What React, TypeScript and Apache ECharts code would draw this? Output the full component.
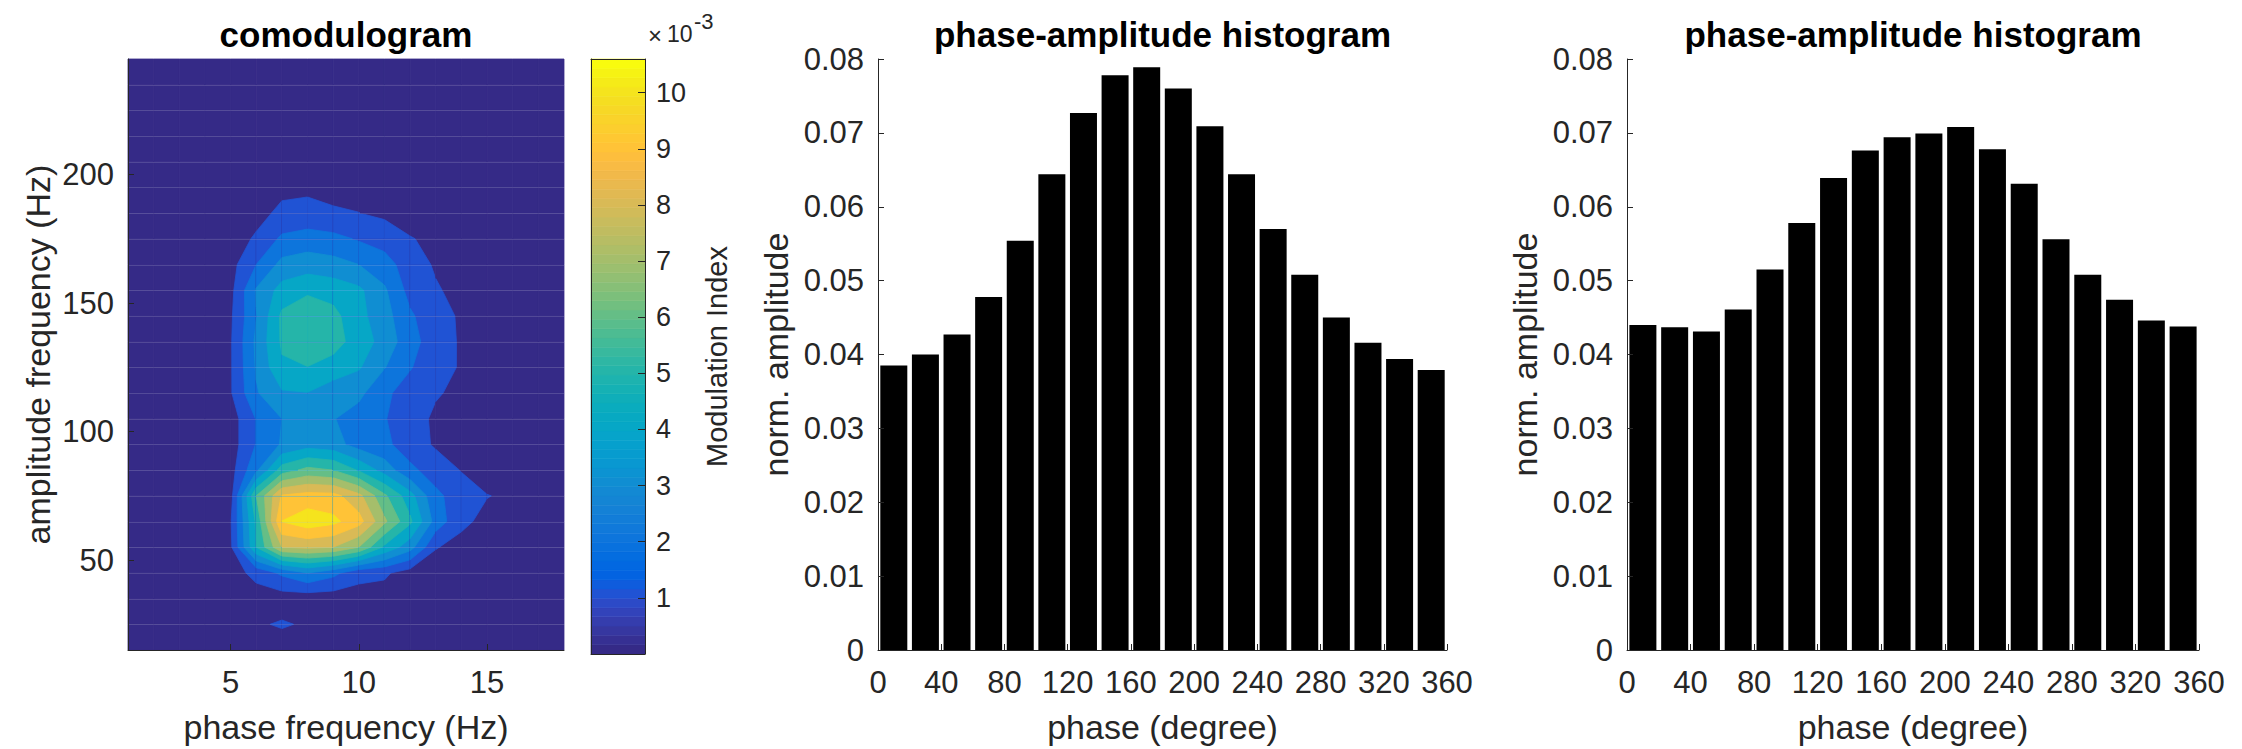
import React, { useEffect, useRef } from "react";
import * as echarts from "echarts";

// ---------- data ----------
const phaseFreqs = [1, 2, 3, 4, 5, 6, 7, 8, 9, 10, 11, 12, 13, 14, 15, 16, 17, 18];
const ampFreqs = [15, 25, 35, 45, 55, 65, 75, 85, 95, 105, 115, 125, 135, 145, 155, 165, 175, 185, 195, 205, 215, 225, 235, 245];

// modulation index (x 1e-3), one row per amplitude frequency, columns = phase frequency 1..18
const mi015 = [0.3, 0.35, 0.4, 0.45, 0.5, 0.5, 0.5, 0.5, 0.5, 0.45, 0.45, 0.4, 0.4, 0.35, 0.35, 0.35, 0.3, 0.3];
const mi025 = [0.35, 0.4, 0.45, 0.5, 0.6, 0.88, 1.1, 0.88, 0.65, 0.55, 0.5, 0.45, 0.4, 0.4, 0.4, 0.35, 0.35, 0.35];
const mi035 = [0.35, 0.4, 0.45, 0.5, 0.55, 0.6, 0.5, 0.4, 0.45, 0.67, 0.6, 0.5, 0.45, 0.4, 0.4, 0.4, 0.35, 0.35];
const mi045 = [0.35, 0.4, 0.45, 0.5, 0.61, 1.26, 2.2, 3.0, 2.3, 1.25, 1.15, 0.55, 0.5, 0.45, 0.45, 0.4, 0.4, 0.35];
const mi055 = [0.35, 0.4, 0.45, 0.55, 0.8, 5.0, 8.0, 8.2, 8.0, 7.0, 4.8, 3.4, 1.05, 0.7, 0.55, 0.45, 0.4, 0.4];
const mi065 = [0.35, 0.4, 0.45, 0.55, 0.9, 5.2, 10.02, 10.6, 10.25, 9.4, 7.2, 5.2, 2.6, 1.2, 0.75, 0.55, 0.45, 0.4];
const mi075 = [0.4, 0.4, 0.45, 0.5, 0.6, 6.0, 9.1, 9.4, 9.35, 8.3, 6.2, 4.4, 2.2, 1.55, 1.03, 0.85, 0.5, 0.4];
const mi085 = [0.4, 0.4, 0.45, 0.5, 0.6, 2.8, 5.5, 6.3, 6.0, 4.9, 3.6, 2.2, 1.6, 0.95, 0.5, 0.4, 0.4, 0.4];
const mi095 = [0.4, 0.4, 0.45, 0.5, 0.5, 2.05, 3.1, 3.6, 3.4, 2.57, 2.2, 1.55, 0.86, 0.6, 0.45, 0.4, 0.4, 0.4];
const mi105 = [0.4, 0.4, 0.45, 0.5, 0.5, 2.05, 3.0, 3.4, 3.05, 2.55, 2.05, 1.5, 0.8, 0.6, 0.45, 0.4, 0.4, 0.4];
const mi115 = [0.4, 0.4, 0.45, 0.55, 0.9, 2.9, 3.88, 3.97, 3.45, 3.25, 2.2, 1.55, 1.1, 0.75, 0.5, 0.4, 0.4, 0.4];
const mi125 = [0.4, 0.4, 0.45, 0.55, 0.9, 3.1, 4.85, 4.98, 4.55, 4.1, 3.05, 2.07, 1.37, 0.91, 0.5, 0.4, 0.4, 0.4];
const mi135 = [0.4, 0.4, 0.45, 0.55, 0.9, 3.2, 5.15, 5.6, 5.45, 4.5, 3.65, 2.35, 1.5, 0.88, 0.5, 0.4, 0.4, 0.4];
const mi145 = [0.4, 0.4, 0.45, 0.55, 0.85, 2.95, 5.2, 5.4, 5.3, 4.3, 3.4, 2.15, 1.35, 0.88, 0.5, 0.4, 0.4, 0.4];
const mi155 = [0.4, 0.4, 0.45, 0.5, 0.7, 3.1, 4.38, 4.9, 4.6, 4.2, 3.15, 1.65, 1.1, 0.7, 0.45, 0.4, 0.4, 0.4];
const mi165 = [0.4, 0.4, 0.45, 0.5, 0.65, 2.0, 3.3, 3.47, 3.35, 3.0, 2.4, 1.5, 0.88, 0.6, 0.45, 0.4, 0.4, 0.4];
const mi175 = [0.4, 0.4, 0.45, 0.5, 0.7, 1.08, 2.2, 2.51, 2.3, 1.9, 1.6, 1.05, 0.8, 0.6, 0.45, 0.4, 0.4, 0.4];
const mi185 = [0.4, 0.4, 0.4, 0.45, 0.55, 0.8, 1.14, 1.17, 1.06, 1.01, 0.8, 0.6, 0.45, 0.4, 0.4, 0.4, 0.4, 0.4];
const mi195 = [0.3, 0.3, 0.35, 0.4, 0.5, 0.6, 0.85, 0.9, 0.85, 0.75, 0.6, 0.45, 0.4, 0.35, 0.3, 0.3, 0.3, 0.3];
const mi205 = [0.25, 0.3, 0.3, 0.35, 0.4, 0.45, 0.55, 0.6, 0.55, 0.5, 0.45, 0.4, 0.35, 0.3, 0.3, 0.25, 0.25, 0.25];
const mi215 = [0.2, 0.25, 0.25, 0.3, 0.3, 0.35, 0.4, 0.4, 0.4, 0.35, 0.35, 0.3, 0.3, 0.25, 0.25, 0.2, 0.2, 0.2];
const mi225 = [0.15, 0.2, 0.2, 0.25, 0.25, 0.3, 0.3, 0.3, 0.3, 0.3, 0.25, 0.25, 0.25, 0.2, 0.2, 0.15, 0.15, 0.15];
const mi235 = [0.1, 0.15, 0.15, 0.2, 0.2, 0.2, 0.25, 0.25, 0.25, 0.2, 0.2, 0.2, 0.2, 0.15, 0.15, 0.1, 0.1, 0.1];
const mi245 = [0.05, 0.1, 0.1, 0.15, 0.15, 0.15, 0.2, 0.2, 0.2, 0.15, 0.15, 0.15, 0.15, 0.1, 0.1, 0.05, 0.05, 0.05];

const modulationIndex = [
  mi015, mi025, mi035, mi045, mi055, mi065, mi075, mi085, mi095, mi105, mi115, mi125,
  mi135, mi145, mi155, mi165, mi175, mi185, mi195, mi205, mi215, mi225, mi235, mi245,
];

const contourLevels = [1, 2, 3, 4, 5, 6, 7, 8, 9, 10];
const colorRange = [0, 10.6];
const colorbarTicks = [1, 2, 3, 4, 5, 6, 7, 8, 9, 10];
const phaseFreqTicks = [5, 10, 15];
const ampFreqTicks = [50, 100, 150, 200];

const phaseBins = [10, 30, 50, 70, 90, 110, 130, 150, 170, 190, 210, 230, 250, 270, 290, 310, 330, 350];
const histogramA = [0.0385, 0.04, 0.0427, 0.0478, 0.0554, 0.0644, 0.0727, 0.0778, 0.0789, 0.076, 0.0709, 0.0644, 0.057, 0.0508, 0.045, 0.0416, 0.0394, 0.0379];
const histogramB = [0.044, 0.0437, 0.0431, 0.0461, 0.0515, 0.0578, 0.0639, 0.0676, 0.0694, 0.0699, 0.0708, 0.0678, 0.0631, 0.0556, 0.0508, 0.0474, 0.0446, 0.0438];

// parula colormap (64)
const PARULA = [
  [0.2081, 0.1663, 0.5292], [0.2116, 0.1898, 0.5777], [0.2123, 0.2138, 0.627], [0.2081, 0.2386, 0.6771],
  [0.1959, 0.2645, 0.7279], [0.1707, 0.2919, 0.7792], [0.1253, 0.3242, 0.8303], [0.0591, 0.3598, 0.8683],
  [0.0117, 0.3875, 0.882], [0.006, 0.4086, 0.8828], [0.0165, 0.4266, 0.8786], [0.0329, 0.443, 0.872],
  [0.0498, 0.4586, 0.8641], [0.0629, 0.4737, 0.8554], [0.0723, 0.4887, 0.8467], [0.0779, 0.504, 0.8384],
  [0.0793, 0.52, 0.8312], [0.0749, 0.5375, 0.8263], [0.0641, 0.557, 0.824], [0.0488, 0.5772, 0.8228],
  [0.0343, 0.5966, 0.8199], [0.0265, 0.6137, 0.8135], [0.0239, 0.6287, 0.8038], [0.0231, 0.6418, 0.7913],
  [0.0228, 0.6535, 0.7768], [0.0267, 0.6642, 0.7607], [0.0384, 0.6743, 0.7436], [0.059, 0.6838, 0.7254],
  [0.0843, 0.6928, 0.7062], [0.1133, 0.7015, 0.6859], [0.1453, 0.7098, 0.6646], [0.1801, 0.7177, 0.6424],
  [0.2178, 0.725, 0.6193], [0.2586, 0.7317, 0.5954], [0.3022, 0.7376, 0.5712], [0.3482, 0.7424, 0.5473],
  [0.3953, 0.7459, 0.5244], [0.442, 0.7481, 0.5033], [0.4871, 0.7491, 0.484], [0.53, 0.7491, 0.4661],
  [0.5709, 0.7485, 0.4494], [0.6099, 0.7473, 0.4337], [0.6473, 0.7456, 0.4188], [0.6834, 0.7435, 0.4044],
  [0.7184, 0.7411, 0.3905], [0.7525, 0.7384, 0.3768], [0.7858, 0.7356, 0.3633], [0.8185, 0.7327, 0.3498],
  [0.8507, 0.7299, 0.336], [0.8824, 0.7274, 0.3217], [0.9139, 0.7258, 0.3063], [0.945, 0.7261, 0.2886],
  [0.9739, 0.7314, 0.2666], [0.9938, 0.7455, 0.2403], [0.999, 0.7653, 0.2164], [0.9955, 0.7861, 0.1967],
  [0.988, 0.8066, 0.1794], [0.9789, 0.8271, 0.1633], [0.9697, 0.8481, 0.1475], [0.9626, 0.8705, 0.1309],
  [0.9589, 0.8949, 0.1132], [0.9598, 0.9218, 0.0948], [0.9661, 0.9514, 0.0755], [0.9763, 0.9831, 0.0538],
];

// ---------- styling ----------
const FONT = '"Liberation Sans", Arial, Helvetica, sans-serif';
const AXIS_COLOR = "#262626";
const TICK_FONT = 31;
const LABEL_FONT = 34;

function rgb(c: number[]) {
  return `rgb(${Math.round(c[0] * 255)},${Math.round(c[1] * 255)},${Math.round(c[2] * 255)})`;
}
function colorForValue(v: number) {
  const t = (v - colorRange[0]) / (colorRange[1] - colorRange[0]);
  const idx = Math.max(0, Math.min(PARULA.length - 1, Math.floor(t * PARULA.length)));
  return rgb(PARULA[idx]);
}

function cellRegion(xs: number[], ys: number[], vs: number[], level: number) {
  const pts: number[][] = [];
  for (let k = 0; k < 4; k++) {
    const b = (k + 1) % 4;
    const inA = vs[k] >= level;
    const inB = vs[b] >= level;
    if (inA) pts.push([xs[k], ys[k]]);
    if (inA !== inB) {
      const t = (level - vs[k]) / (vs[b] - vs[k]);
      pts.push([xs[k] + t * (xs[b] - xs[k]), ys[k] + t * (ys[b] - ys[k])]);
    }
  }
  return pts;
}

function valueAxisBase(extra: any) {
  return {
    type: "value",
    z: 4,
    splitLine: { show: false },
    axisLine: { show: true, onZero: false, lineStyle: { color: AXIS_COLOR, width: 1 } },
    axisTick: { show: true, inside: true, length: 6, lineStyle: { color: AXIS_COLOR, width: 1 } },
    axisLabel: { color: AXIS_COLOR, fontSize: TICK_FONT, fontFamily: FONT, margin: 16 },
    nameTextStyle: { color: AXIS_COLOR, fontSize: LABEL_FONT, fontFamily: FONT },
    nameLocation: "middle",
    ...extra,
  };
}

export default function App() {
  const ref = useRef<HTMLDivElement>(null);

  useEffect(() => {
    if (!ref.current) return;
    const chart = echarts.init(ref.current, null, { renderer: "svg" });

    let minVal = Infinity;
    modulationIndex.forEach((row) => row.forEach((v) => (minVal = Math.min(minVal, v))));
    const baseColor = colorForValue(minVal);
    const levelColors = contourLevels.map((l) => colorForValue(l));

    const cells: number[][] = [];
    for (let j = 0; j < ampFreqs.length - 1; j++) {
      for (let i = 0; i < phaseFreqs.length - 1; i++) {
        cells.push([phaseFreqs[i], ampFreqs[j], i, j]);
      }
    }

    const contourRender = (params: any, api: any) => {
      const i = api.value(2);
      const j = api.value(3);
      const x0 = phaseFreqs[i], x1 = phaseFreqs[i + 1];
      const y0 = ampFreqs[j], y1 = ampFreqs[j + 1];
      const xs = [x0, x1, x1, x0];
      const ys = [y0, y0, y1, y1];
      const vs = [modulationIndex[j][i], modulationIndex[j][i + 1], modulationIndex[j + 1][i + 1], modulationIndex[j + 1][i]];
      const children: any[] = [];
      const basePts = xs.map((x, k) => api.coord([x, ys[k]]));
      children.push({ type: "polygon", shape: { points: basePts }, style: { fill: baseColor, stroke: baseColor, lineWidth: 0.8 } });
      contourLevels.forEach((lvl, li) => {
        const pts = cellRegion(xs, ys, vs, lvl);
        if (pts.length >= 3) {
          const c = levelColors[li];
          children.push({
            type: "polygon",
            shape: { points: pts.map((p) => api.coord(p)) },
            style: { fill: c, stroke: c, lineWidth: 0.8 },
          });
        }
      });
      return { type: "group", children };
    };

    const seamRender = (params: any, api: any) => {
      const y = api.value(1);
      const p0 = api.coord([phaseFreqs[0], y]);
      const p1 = api.coord([phaseFreqs[phaseFreqs.length - 1], y]);
      const py = Math.round(p0[1]) + 0.5;
      return {
        type: "line",
        shape: { x1: p0[0], y1: py, x2: p1[0], y2: py },
        style: { stroke: "rgba(255,255,255,0.15)", lineWidth: 1 },
      };
    };

    const nBands = PARULA.length;
    const bandStep = (colorRange[1] - colorRange[0]) / nBands;
    const colorbarRender = (params: any, api: any) => {
      const k = api.value(2);
      const lo = colorRange[0] + k * bandStep;
      const hi = lo + bandStep;
      const a = api.coord([0, lo]);
      const b = api.coord([1, hi]);
      const c = rgb(PARULA[k]);
      return {
        type: "rect",
        shape: { x: a[0], y: b[1], width: b[0] - a[0], height: a[1] - b[1] },
        style: { fill: c, stroke: c, lineWidth: 0.6 },
      };
    };

    const gridTop = 59;
    const gridHeight = 595;
    const yTickFormatter = (v: number) => (v === 0 ? "0" : v.toFixed(2));

    const option: any = {
      animation: false,
      backgroundColor: "#ffffff",
      grid: [
        { left: 128, top: gridTop, width: 436, height: gridHeight },
        { left: 591, top: gridTop, width: 54, height: gridHeight },
        { left: 878, top: gridTop, width: 569, height: gridHeight },
        { left: 1627, top: gridTop, width: 572, height: gridHeight },
      ],
      xAxis: [
        valueAxisBase({
          gridIndex: 0, min: phaseFreqs[0], max: phaseFreqs[phaseFreqs.length - 1],
          axisTick: { show: true, inside: true, length: 6, customValues: phaseFreqTicks, lineStyle: { color: AXIS_COLOR } },
          axisLabel: { customValues: phaseFreqTicks, color: AXIS_COLOR, fontSize: TICK_FONT, fontFamily: FONT, margin: 17 },
          name: "phase frequency (Hz)", nameGap: 60,
        }),
        {
          type: "value", gridIndex: 1, min: 0, max: 1, position: "bottom", z: 4,
          axisLine: { show: true, onZero: false, lineStyle: { color: AXIS_COLOR } },
          axisTick: { show: false }, axisLabel: { show: false }, splitLine: { show: false },
        },
        {
          type: "value", gridIndex: 1, min: 0, max: 1, position: "top", z: 4,
          axisLine: { show: true, onZero: false, lineStyle: { color: AXIS_COLOR } },
          axisTick: { show: false }, axisLabel: { show: false }, splitLine: { show: false },
        },
        valueAxisBase({
          gridIndex: 2, min: 0, max: 360, interval: 40,
          axisLabel: { color: AXIS_COLOR, fontSize: TICK_FONT, fontFamily: FONT, margin: 17 },
          name: "phase (degree)", nameGap: 60,
        }),
        valueAxisBase({
          gridIndex: 3, min: 0, max: 360, interval: 40,
          axisLabel: { color: AXIS_COLOR, fontSize: TICK_FONT, fontFamily: FONT, margin: 17 },
          name: "phase (degree)", nameGap: 60,
        }),
      ],
      yAxis: [
        valueAxisBase({
          gridIndex: 0, min: ampFreqs[0], max: ampFreqs[ampFreqs.length - 1],
          axisTick: { show: true, inside: true, length: 6, customValues: ampFreqTicks, lineStyle: { color: AXIS_COLOR } },
          axisLabel: { customValues: ampFreqTicks, color: AXIS_COLOR, fontSize: TICK_FONT, fontFamily: FONT, margin: 14 },
          name: "amplitude frequency (Hz)", nameGap: 73, nameRotate: 90,
        }),
        {
          type: "value", gridIndex: 1, min: colorRange[0], max: colorRange[1], position: "left", z: 4,
          axisLine: { show: true, onZero: false, lineStyle: { color: AXIS_COLOR } },
          axisTick: { show: false }, axisLabel: { show: false }, splitLine: { show: false },
        },
        {
          type: "value", gridIndex: 1, min: colorRange[0], max: colorRange[1], position: "right", z: 4,
          splitLine: { show: false },
          axisLine: { show: true, onZero: false, lineStyle: { color: AXIS_COLOR } },
          axisTick: { show: true, inside: true, length: 7, customValues: colorbarTicks, lineStyle: { color: AXIS_COLOR } },
          axisLabel: { customValues: colorbarTicks, color: AXIS_COLOR, fontSize: 27, fontFamily: FONT, margin: 11 },
          name: "Modulation Index", nameLocation: "middle", nameRotate: 90, nameGap: 57,
          nameTextStyle: { color: AXIS_COLOR, fontSize: 29, fontFamily: FONT },
        },
        valueAxisBase({
          gridIndex: 2, min: 0, max: 0.08, interval: 0.01,
          axisLabel: { color: AXIS_COLOR, fontSize: TICK_FONT, fontFamily: FONT, margin: 14, formatter: yTickFormatter },
          name: "norm. amplitude", nameGap: 85, nameRotate: 90,
        }),
        valueAxisBase({
          gridIndex: 3, min: 0, max: 0.08, interval: 0.01,
          axisLabel: { color: AXIS_COLOR, fontSize: TICK_FONT, fontFamily: FONT, margin: 14, formatter: yTickFormatter },
          name: "norm. amplitude", nameGap: 85, nameRotate: 90,
        }),
      ],
      series: [
        {
          type: "custom", name: "comodulogram", xAxisIndex: 0, yAxisIndex: 0,
          renderItem: contourRender, data: cells, encode: { x: 0, y: 1 }, silent: true, z: 2,
        },
        {
          type: "custom", name: "seams", xAxisIndex: 0, yAxisIndex: 0,
          renderItem: seamRender, data: ampFreqs.slice(1, -1).map((a) => [phaseFreqs[0], a]),
          encode: { x: 0, y: 1 }, silent: true, z: 3,
        },
        {
          type: "custom", name: "colorbar", xAxisIndex: 1, yAxisIndex: 2,
          renderItem: colorbarRender, data: PARULA.map((_, k) => [0.5, colorRange[0] + (k + 0.5) * bandStep, k]),
          encode: { x: 0, y: 1 }, silent: true, z: 2,
        },
        {
          type: "bar", name: "histogram A", xAxisIndex: 3, yAxisIndex: 3, barWidth: 27,
          data: phaseBins.map((p, k) => [p, histogramA[k]]),
          itemStyle: { color: "#000000" }, silent: true,
        },
        {
          type: "bar", name: "histogram B", xAxisIndex: 4, yAxisIndex: 4, barWidth: 27,
          data: phaseBins.map((p, k) => [p, histogramB[k]]),
          itemStyle: { color: "#000000" }, silent: true,
        },
      ],
      graphic: [
        { type: "text", x: 346, y: 34, style: { text: "comodulogram", fill: "#000", fontSize: 35, fontWeight: "bold", fontFamily: FONT, align: "center", verticalAlign: "middle" } },
        { type: "text", x: 1162.5, y: 34, style: { text: "phase-amplitude histogram", fill: "#000", fontSize: 35, fontWeight: "bold", fontFamily: FONT, align: "center", verticalAlign: "middle" } },
        { type: "text", x: 1913, y: 34, style: { text: "phase-amplitude histogram", fill: "#000", fontSize: 35, fontWeight: "bold", fontFamily: FONT, align: "center", verticalAlign: "middle" } },
        { type: "text", x: 648, y: 35, style: { text: "×", fill: AXIS_COLOR, fontSize: 24, fontFamily: FONT, align: "left", verticalAlign: "middle" } },
        { type: "text", x: 667, y: 34, style: { text: "10", fill: AXIS_COLOR, fontSize: 23, fontFamily: FONT, align: "left", verticalAlign: "middle" } },
        { type: "text", x: 694, y: 21, style: { text: "-3", fill: AXIS_COLOR, fontSize: 22, fontFamily: FONT, align: "left", verticalAlign: "middle" } },
      ],
    };

    chart.setOption(option);
    return () => chart.dispose();
  }, []);

  return (
    <div
      ref={ref}
      style={{ position: "absolute", left: 0, top: 0, width: 2242, height: 749, background: "#ffffff" }}
    />
  );
}
